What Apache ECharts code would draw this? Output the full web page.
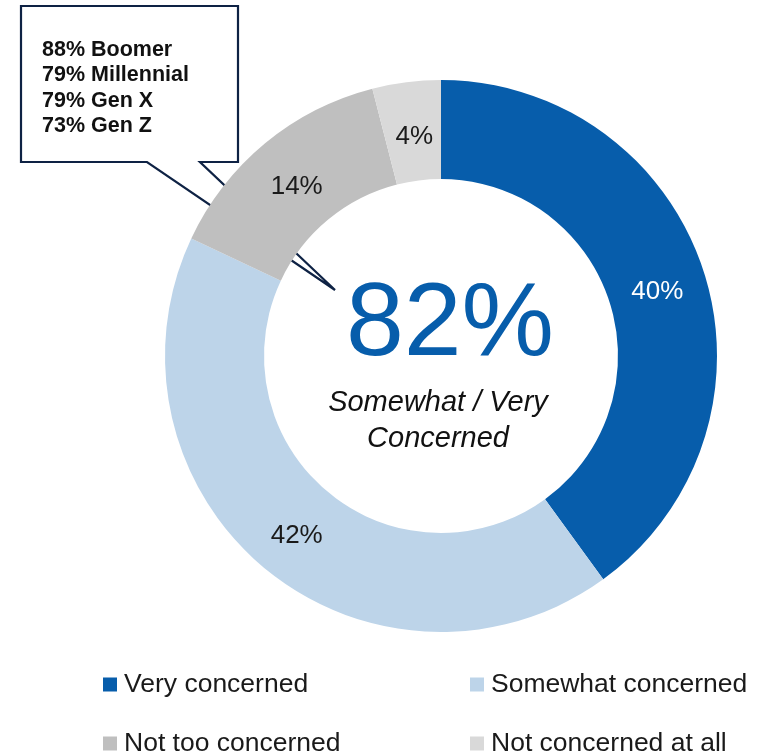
<!DOCTYPE html>
<html>
<head>
<meta charset="utf-8">
<style>
  html, body { margin: 0; padding: 0; background: #ffffff; }
  #chart { width: 766px; height: 753px; }
</style>
<script src="https://cdn.jsdelivr.net/npm/echarts@6/dist/echarts.min.js"></script>
</head>
<body>
<div id="chart"></div>
<script>
// Level of concern, share of respondents (%)
const categories = ['Very concerned', 'Somewhat concerned', 'Not too concerned', 'Not concerned at all'];
const shares = [40, 42, 14, 4];
const sliceColors = ['#075DAB', '#BDD4E9', '#BFBFBF', '#D9D9D9'];
const labelColors = ['#ffffff', '#1a1a1a', '#1a1a1a', '#1a1a1a'];
// Small nudges of each in-ring percentage label
const labelNudges = [[-2, 7], [2, 3], [2, 8], [2, 9]];

// Headline figure and its caption
const headline = '82%';
const headlineCaption = ['Somewhat / Very', 'Concerned'];

// Somewhat / very concerned, by generation
const generationLines = ['88% Boomer', '79% Millennial', '79% Gen X', '73% Gen Z'];

const FONT = '"Liberation Sans", Arial, sans-serif';

const chart = echarts.init(document.getElementById('chart'), null, { renderer: 'canvas' });

const legendSpots = [
  { left: 103, top: 671 },
  { left: 470, top: 671 },
  { left: 103, top: 730 },
  { left: 470, top: 730 }
];

const legends = categories.map((name, i) => ({
  data: [name],
  left: legendSpots[i].left,
  top: legendSpots[i].top,
  padding: 0,
  icon: 'rect',
  itemWidth: 14,
  itemHeight: 14,
  selectedMode: false,
  textStyle: { fontFamily: FONT, fontSize: 26.5, color: '#1a1a1a', padding: [0, 0, 0, 2] }
}));

const calloutTextElems = generationLines.map((line, i) => ({
  type: 'text',
  z: 5,
  left: 42,
  top: 39 + i * 25.5,
  style: {
    text: line,
    fontFamily: FONT,
    fontSize: 21.5,
    fontWeight: 'bold',
    fill: '#111111'
  }
}));

chart.setOption({
  animation: false,
  backgroundColor: '#ffffff',
  legend: legends,
  graphic: [
    // Speech-bubble callout, drawn beneath the ring
    {
      type: 'polygon',
      z: 0,
      shape: {
        points: [[21, 6], [238, 6], [238, 162], [200, 162], [335, 290], [147, 162], [21, 162]]
      },
      style: { fill: '#ffffff', stroke: '#0E2244', lineWidth: 2.2, lineJoin: 'miter' }
    },
    ...calloutTextElems,
    {
      type: 'text',
      z: 10,
      x: 450,
      y: 326,
      style: {
        text: headline,
        fontFamily: FONT,
        fontSize: 104,
        fill: '#075DAB',
        align: 'center',
        verticalAlign: 'middle'
      }
    },
    {
      type: 'text',
      z: 10,
      x: 438,
      y: 403,
      style: {
        text: headlineCaption[0],
        fontFamily: FONT,
        fontSize: 29,
        fontStyle: 'italic',
        fill: '#111111',
        align: 'center',
        verticalAlign: 'middle'
      }
    },
    {
      type: 'text',
      z: 10,
      x: 438,
      y: 439,
      style: {
        text: headlineCaption[1],
        fontFamily: FONT,
        fontSize: 29,
        fontStyle: 'italic',
        fill: '#111111',
        align: 'center',
        verticalAlign: 'middle'
      }
    }
  ],
  series: [{
    type: 'pie',
    z: 2,
    center: [441, 356],
    radius: [177, 276],
    startAngle: 90,
    clockwise: true,
    avoidLabelOverlap: false,
    silent: true,
    itemStyle: { borderWidth: 0 },
    label: {
      show: true,
      position: 'inside',
      formatter: '{c}%',
      fontFamily: FONT,
      fontSize: 26
    },
    labelLine: { show: false },
    data: categories.map((name, i) => ({
      name: name,
      value: shares[i],
      itemStyle: { color: sliceColors[i] },
      label: { color: labelColors[i], offset: labelNudges[i] }
    }))
  }]
});
</script>
</body>
</html>
